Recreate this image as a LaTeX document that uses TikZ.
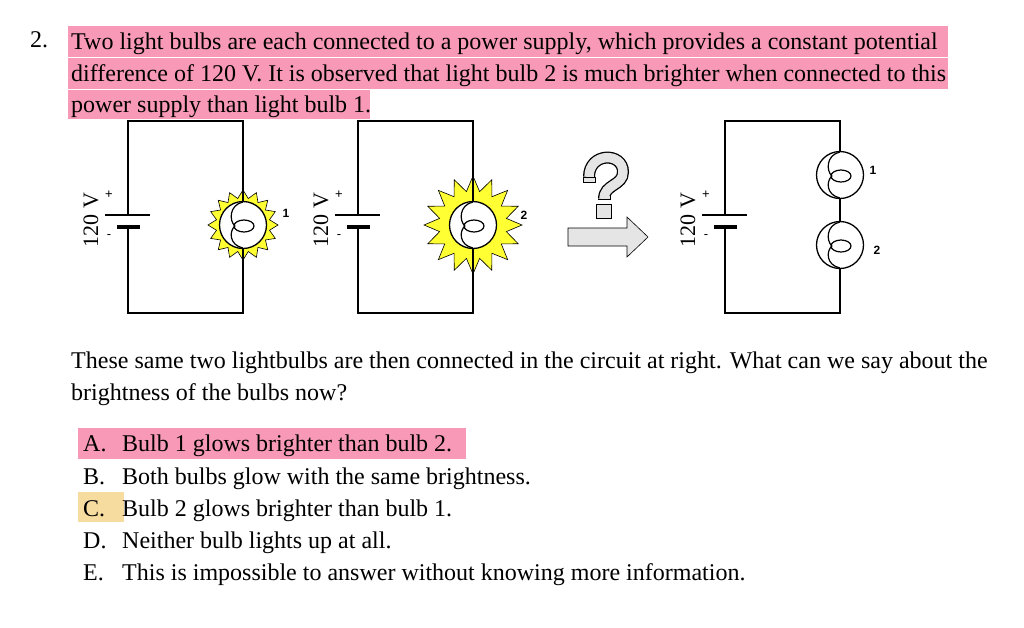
\documentclass[tikz,border=0pt]{standalone}
\usepackage{fontspec}
\setmainfont{Liberation Serif}
\newfontfamily\lab{Liberation Sans}
\begin{document}
\begin{tikzpicture}[x=1pt,y=-1pt,
  txt/.style={anchor=base west,inner sep=0,font=\fontsize{24}{28}\selectfont},
  wire/.style={line width=1.3pt},
  lbl/.style={font=\lab\bfseries\fontsize{12}{12}\selectfont,inner sep=0},
  volt/.style={rotate=90,font=\fontsize{22}{22}\selectfont,inner sep=0}]
\useasboundingbox (0,0) rectangle (1024,627);
\definecolor{pk}{HTML}{F799B7}
\definecolor{yl}{HTML}{F7DCA0}
\definecolor{sun}{HTML}{FFFF33}
% highlights
\fill[pk] (68,26) rectangle (948,57);
\fill[pk] (68,58) rectangle (948,89);
\fill[pk] (68,90) rectangle (370,119);
\fill[pk] (78,428) rectangle (466,459);
\fill[yl] (78,492) rectangle (124,522);
% text
\node[txt] (n) at (30,47) {2.};
\node[txt] (l1) at (71,49) {Two light bulbs are each connected to a power supply, which provides a constant potential};
\node[txt] (l2) at (71,81) {difference of 120 V. It is observed that light bulb 2 is much brighter when connected to this};
\node[txt] (l3) at (71,112) {power supply than light bulb 1.};
\node[txt] (q1) at (71,368) {These same two lightbulbs are then connected in the circuit at right. What can we say about the};
\node[txt] (q2) at (71,400) {brightness of the bulbs now?};
\foreach \y/\L/\T [count=\i] in {451/A./Bulb 1 glows brighter than bulb 2.,484/B./Both bulbs glow with the same brightness.,516/C./Bulb 2 glows brighter than bulb 1.,548/D./Neither bulb lights up at all.,580/E./This is impossible to answer without knowing more information.}{
  \node[txt] (o\i) at (83,\y) {\L};
  \node[txt] (t\i) at (122,\y) {\T};
}
% circuits
\foreach \L/\R/\k in {128/243/a,358/473/b,725/840/c}{
  \coordinate (pl\k) at (\L,215);
  \coordinate (ns\k) at (\L,227);
  \draw[wire] (pl\k) -- (\L,121) -- (\R,121) -- (\R,313) -- (\L,313) -- (ns\k);
  \draw[line width=1.6pt] (\L-23,215) -- (\L+22,215);
  \draw[line width=4pt] (\L-11,227) -- (\L+12,227);
  \node[font=\lab\fontsize{13}{13}\selectfont,inner sep=0] (p\k) at (\L-19,195) {+};
  \node[font=\lab\fontsize{13}{13}\selectfont,inner sep=0] (m\k) at (\L-19,237) {-};
  \node[volt] (v\k) at (\L-37,220) {120 V};
}
% starbursts
\foreach \cx/\cy/\ro/\ri in {243/225/35/27,473/225/49/34}{
  \fill[sun,draw=black,line width=0.6pt] plot[samples at={0,...,31},variable=\t] ({\cx+(mod(\t,2)==0 ? \ro : \ri)*cos(\t*11.25)},{\cy+(mod(\t,2)==0 ? \ro : \ri)*sin(\t*11.25)}) -- cycle;
  \draw[wire] (\cx,121) -- (\cx,313);
}
% bulbs
\foreach \cx/\cy/\k in {243/225/a,473/225/b,840/175/c,840/245/d}{
  \node[circle,draw,line width=1.3pt,fill=white,minimum size=47pt,inner sep=0] (b\k) at (\cx,\cy) {};
  \draw[line width=1.2pt] (\cx,\cy-23) .. controls (\cx-14,\cy-20) and (\cx-14,\cy-4) .. (\cx-8,\cy+1);
  \draw[line width=1.2pt] (\cx,\cy+23) .. controls (\cx-14,\cy+20) and (\cx-14,\cy+6) .. (\cx-8,\cy+1);
  \draw[line width=1.2pt] (\cx+1,\cy+1) ellipse (10 and 6);
}
\node[lbl] (n1) at (286,213) {1};
\node[lbl] (n2) at (524,215) {2};
\node[lbl] (n3) at (873,170) {1};
\node[lbl] (n4) at (877,250) {2};
% question mark and arrow
\draw[line width=12pt] (589,177) .. controls (589,152) and (623,152) .. (623,172) .. controls (623,186) and (604,184) .. (604,199);
\draw[black!10,line width=9.4pt] (589,177) .. controls (589,152) and (623,152) .. (623,172) .. controls (623,186) and (604,184) .. (604,199);
\fill[black!10,draw=black,line width=0.8pt] (583,177) rectangle (595,182);
\fill[black!10,draw=black,line width=0.8pt] (598,199) -- (610,199) -- (610,196);
\fill[black!10,draw=black,line width=0.8pt] (596,204) rectangle (611,218);
\fill[black!10,draw=black,line width=0.6pt] (568,228) -- (627,228) -- (627,217) -- (648,237) -- (627,257) -- (627,246) -- (568,246) -- cycle;
\end{tikzpicture}
\end{document}
